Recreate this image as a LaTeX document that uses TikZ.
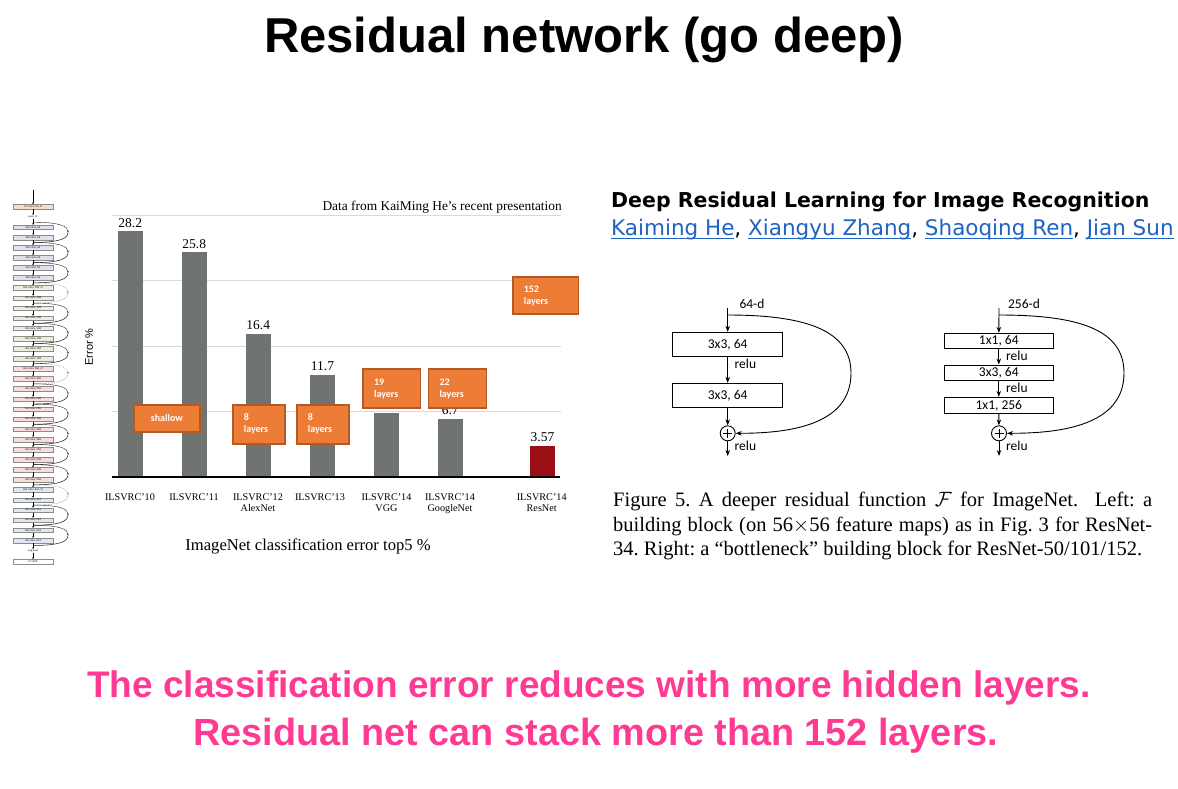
\documentclass[tikz,border=0pt]{standalone}
\usepackage{fontspec}
\setmainfont{Liberation Serif}
\newfontfamily\arialf{Liberation Sans}
\newfontfamily\calib{Carlito}
\newfontfamily\dejavu{DejaVu Sans}
\usetikzlibrary{arrows.meta,calc}
\definecolor{pinkT}{HTML}{FF3A92}
\definecolor{barg}{HTML}{6F7471}
\definecolor{barr}{HTML}{9B0E14}
\definecolor{orf}{HTML}{EC7C36}
\definecolor{ord}{HTML}{B35A25}
\definecolor{gridc}{HTML}{D9D9D9}
\definecolor{linkc}{HTML}{1F64C3}
\definecolor{cseven}{HTML}{F6DDC9}
\definecolor{csixtyfour}{HTML}{E3E0EE}
\definecolor{conetwentyeight}{HTML}{E8F0DB}
\definecolor{ctwofiftysix}{HTML}{F7DCDB}
\definecolor{cfivetwelve}{HTML}{DFE7F3}
\newcommand\lnk[1]{\setbox0\hbox{#1}\rlap{\rule[-4.2pt]{\wd0}{1.3pt}}\box0}
\begin{document}
\begin{tikzpicture}[x=1pt,y=-1pt,
  tb/.style={draw=black!45, line width=0.3pt, minimum width=40pt, minimum height=4.6pt, inner sep=0pt, font=\arialf\fontsize{2.6}{3}\selectfont},
  tt/.style={inner sep=0.4pt, font=\arialf\fontsize{2.6}{3}\selectfont},
  tarr/.style={-{Stealth[length=1.6pt,width=1.6pt]}, line width=0.4pt},
  vallab/.style={anchor=base, inner sep=0pt, font=\fontsize{13.5}{15}\selectfont},
  ticklab/.style={anchor=base, inner sep=0pt, font=\fontsize{10.2}{11}\selectfont},
  obox/.style={fill=orf, draw=ord, line width=1.6pt, text=white, anchor=north west, align=left, inner xsep=11pt, inner ysep=0pt, font=\calib\bfseries\fontsize{10}{12}\selectfont},
  rb/.style={draw, line width=0.9pt, inner sep=0pt, font=\calib\fontsize{13.5}{14}\selectfont},
  lbl/.style={inner sep=0pt, font=\calib\fontsize{13.5}{14}\selectfont},
  arr/.style={-{Stealth[length=6pt,width=4.5pt]}, line width=0.9pt},
  plusc/.style={circle, draw, line width=0.9pt, minimum size=15pt, inner sep=0pt}
]
\useasboundingbox (0,0) rectangle (1178,788);
\fill[white] (0,0) rectangle (1178,788);

% ---------- title ----------
\node[anchor=base, inner sep=0pt, font=\arialf\bfseries\fontsize{49}{58}\selectfont] (title) at (584,52) {Residual network (go deep)};

% ---------- tiny ResNet-34 column ----------
\coordinate (t0) at (33,190);
\node[tb, fill=cseven] (conv1) at (33,206.7) {7x7 conv, 64, /2};
\node[tt] (pool) at (33,216.8) {pool, /2};
\foreach \i in {0,...,31}{
  \pgfmathsetmacro\yy{227.3+10.1*\i}
  \pgfmathtruncatemacro\half{(\i==6)||(\i==14)||(\i==26)}
  \ifnum\i<6 \def\ch{64}\def\cc{csixtyfour}\else
   \ifnum\i<14 \def\ch{128}\def\cc{conetwentyeight}\else
    \ifnum\i<26 \def\ch{256}\def\cc{ctwofiftysix}\else
     \def\ch{512}\def\cc{cfivetwelve}\fi\fi\fi
  \node[tb, fill=\cc] (L\i) at (33,\yy) {3x3 conv, \ch\ifnum\half=1, /2\fi};
}
\node[tt] (avg) at (33,550.8) {avg pool};
\node[tb, fill=white] (fc) at (33,561.5) {fc 1000};
\draw[tarr] (t0) -- (conv1);
\draw[tarr] (conv1) -- (pool);
\draw[tarr] (pool) -- (L0);
\foreach \i in {1,...,31}{
  \pgfmathtruncatemacro\j{\i-1}
  \draw[tarr] (L\j) -- (L\i);
}
\draw[tarr] (L31) -- (avg);
\draw[tarr] (avg) -- (fc);
\foreach \k in {0,...,15}{
  \pgfmathsetmacro\ys{227.3+10.1*(2*\k)-5.05}
  \pgfmathsetmacro\ye{227.3+10.1*(2*\k+1)+5.05}
  \pgfmathsetmacro\ym{(\ys+\ye)/2}
  \pgfmathtruncatemacro\proj{(\k==3)||(\k==7)||(\k==13)}
  \ifnum\proj=1 \tikzset{arcsty/.style={densely dotted, draw=black!60}}\else\tikzset{arcsty/.style={draw=black!85}}\fi
  \coordinate (s\k) at (33,\ys);
  \coordinate (m\k) at (68,\ym);
  \coordinate (e\k) at (33,\ye);
  \draw[arcsty, line width=0.55pt, tarr] (s\k) .. controls (60,\ys) and (68,\ym-6) .. (m\k);
  \draw[arcsty, line width=0.55pt] (m\k) .. controls (68,\ym+6) and (60,\ye) .. (e\k);
}

% ---------- bar chart ----------
\foreach \yy in {411.6,346.2,280.8,215.4}{
  \draw[gridc, line width=1pt] (112,\yy) -- (561,\yy);
}
\node[anchor=base east, inner sep=0pt, font=\fontsize{13.4}{15}\selectfont] (src) at (562,210) {Data from KaiMing He’s recent presentation};
\node[rotate=90, inner sep=0pt, font=\arialf\fontsize{11}{13}\selectfont] (ylab) at (89,347) {Error \%};
\foreach \cx/\v/\lab [count=\n] in {130.3/28.2/28.2, 194.3/25.8/25.8, 258.2/16.4/16.4, 322.5/11.7/11.7, 386.2/7.3/, 450.2/6.7/6.7}{
  \pgfmathsetmacro\ytop{477-8.72*\v}
  \fill[barg] (\cx-12.7,477) rectangle (\cx+12.7,\ytop);
  \node[vallab] (v\n) at (\cx,\ytop-4) {\lab};
}
\pgfmathsetmacro\ytopr{477-8.72*3.57}
\fill[barr] (529.8,477) rectangle (555.2,\ytopr);
\node[vallab] (v7) at (542.5,\ytopr-4) {3.57};
\draw[black, line width=1.2pt] (112,477) -- (560,477);
\node[ticklab] (x1) at (130,500) {ILSVRC’10};
\node[ticklab] (x2) at (194,500) {ILSVRC’11};
\node[ticklab] (x3) at (258,500) {ILSVRC’12};
\node[ticklab] (x3b) at (258,511.5) {AlexNet};
\node[ticklab] (x4) at (320,500) {ILSVRC’13};
\node[ticklab] (x5) at (386.5,500) {ILSVRC’14};
\node[ticklab] (x5b) at (386.5,511.5) {VGG};
\node[ticklab] (x6) at (450,500) {ILSVRC’14};
\node[ticklab] (x6b) at (450,511.5) {GoogleNet};
\node[ticklab] (x7) at (541.7,500) {ILSVRC’14};
\node[ticklab] (x7b) at (541.7,511.5) {ResNet};
\node[anchor=base, inner sep=0pt, font=\fontsize{16.6}{18}\selectfont] (xlab) at (308,550.7) {ImageNet classification error top5 \%};

\node[obox, align=center, text width=44pt, minimum height=27pt] (bsh) at (133,404) {shallow};
\node[obox, text width=30pt, minimum height=39pt] (b8a) at (232,404) {8\\layers};
\node[obox, text width=30pt, minimum height=39pt] (b8b) at (296,404) {8\\layers};
\node[obox, text width=35.4pt, minimum height=39pt] (b19) at (362.3,368.3) {19\\layers};
\node[obox, text width=36pt, minimum height=39pt] (b22) at (427.7,368.3) {22\\layers};
\node[obox, text width=43.7pt, minimum height=37pt] (b152) at (512,276.3) {152\\layers};

% ---------- paper header ----------
\node[anchor=base west, inner sep=0pt, font=\dejavu\bfseries\fontsize{20.5}{24}\selectfont] (paper) at (611,207) {Deep Residual Learning for Image Recognition};
\node[anchor=base west, inner sep=0pt, font=\dejavu\fontsize{21.5}{24}\selectfont] (auth) at (611,235) {\textcolor{linkc}{\lnk{Kaiming He}}, \textcolor{linkc}{\lnk{Xiangyu Zhang}}, \textcolor{linkc}{\lnk{Shaoqing Ren}}, \textcolor{linkc}{\lnk{Jian Sun}}};

% ---------- left residual block ----------
\coordinate (inA) at (727.7,308);
\coordinate (sA) at (727.7,315);
\node[rb, minimum width=110pt, minimum height=24.4pt] (a1) at (727.7,344.5) {3x3, 64};
\node[rb, minimum width=110pt, minimum height=24pt] (a2) at (727.7,395.3) {3x3, 64};
\node[plusc] (p1) at (727.7,433.3) {};
\draw[line width=0.9pt] ($(p1.center)+(-4.5,0)$) -- ($(p1.center)+(4.5,0)$);
\draw[line width=0.9pt] ($(p1.center)+(0,-4.5)$) -- ($(p1.center)+(0,4.5)$);
\coordinate (outA) at (727.7,456);
\draw[arr] (inA) -- (a1);
\draw[arr] (a1) -- (a2);
\draw[arr] (a2) -- (p1);
\draw[arr] (p1) -- (outA);
\draw[arr] (sA) .. controls (805,315) and (851,330) .. (851,373) .. controls (851,425) and (790,433.3) .. (p1.east);
\node[lbl] (dA) at (752,304) {64-d};
\node[lbl, anchor=west] (rA1) at (734.5,364) {relu};
\node[lbl, anchor=west] (rA2) at (734.5,446) {relu};

% ---------- right (bottleneck) block ----------
\coordinate (inB) at (999,308);
\coordinate (sB) at (999,315);
\node[rb, minimum width=109pt, minimum height=15pt] (b1) at (998.8,340.8) {1x1, 64};
\node[rb, minimum width=109pt, minimum height=15.7pt] (b2) at (998.8,372.8) {3x3, 64};
\node[rb, minimum width=109pt, minimum height=16pt] (b3) at (998.8,405.3) {1x1, 256};
\node[plusc] (p2) at (999,433.3) {};
\draw[line width=0.9pt] ($(p2.center)+(-4.5,0)$) -- ($(p2.center)+(4.5,0)$);
\draw[line width=0.9pt] ($(p2.center)+(0,-4.5)$) -- ($(p2.center)+(0,4.5)$);
\coordinate (outB) at (999,456);
\draw[arr] (inB) -- (b1);
\draw[arr] (b1) -- (b2);
\draw[arr] (b2) -- (b3);
\draw[arr] (b3) -- (p2);
\draw[arr] (p2) -- (outB);
\draw[arr] (sB) .. controls (1080,315) and (1124,330) .. (1124,373) .. controls (1124,425) and (1062,433.3) .. (p2.east);
\node[lbl] (dB) at (1024,304) {256-d};
\node[lbl, anchor=west] (rB1) at (1006,355.7) {relu};
\node[lbl, anchor=west] (rB2) at (1006,388.3) {relu};
\node[lbl, anchor=west] (rB3) at (1006,446) {relu};

% ---------- caption ----------
\node[anchor=base west, inner sep=0pt, font=\fontsize{20.5}{24}\selectfont] (cap1) at (613,506) {\frenchspacing\hbox to 539pt{Figure 5. A deeper residual function $\mathcal{F}$ for ImageNet.\ \ Left: a}};
\node[anchor=base west, inner sep=0pt, font=\fontsize{20.5}{24}\selectfont] (cap2) at (613,531) {\frenchspacing\hbox to 539pt{building block (on 56$\times$56 feature maps) as in Fig. 3 for ResNet-}};
\node[anchor=base west, inner sep=0pt, font=\fontsize{20.5}{24}\selectfont] (cap3) at (613,555.5) {\frenchspacing 34. Right: a “bottleneck” building block for ResNet-50/101/152.};

% ---------- bottom message ----------
\node[anchor=base, inner sep=0pt, text=pinkT, font=\arialf\bfseries\fontsize{37}{44}\selectfont] (msg1) at (589,697) {The classification error reduces with more hidden layers.};
\node[anchor=base, inner sep=0pt, text=pinkT, font=\arialf\bfseries\fontsize{37.8}{44}\selectfont] (msg2) at (596,745) {Residual net can stack more than 152 layers.};
\end{tikzpicture}
\end{document}
